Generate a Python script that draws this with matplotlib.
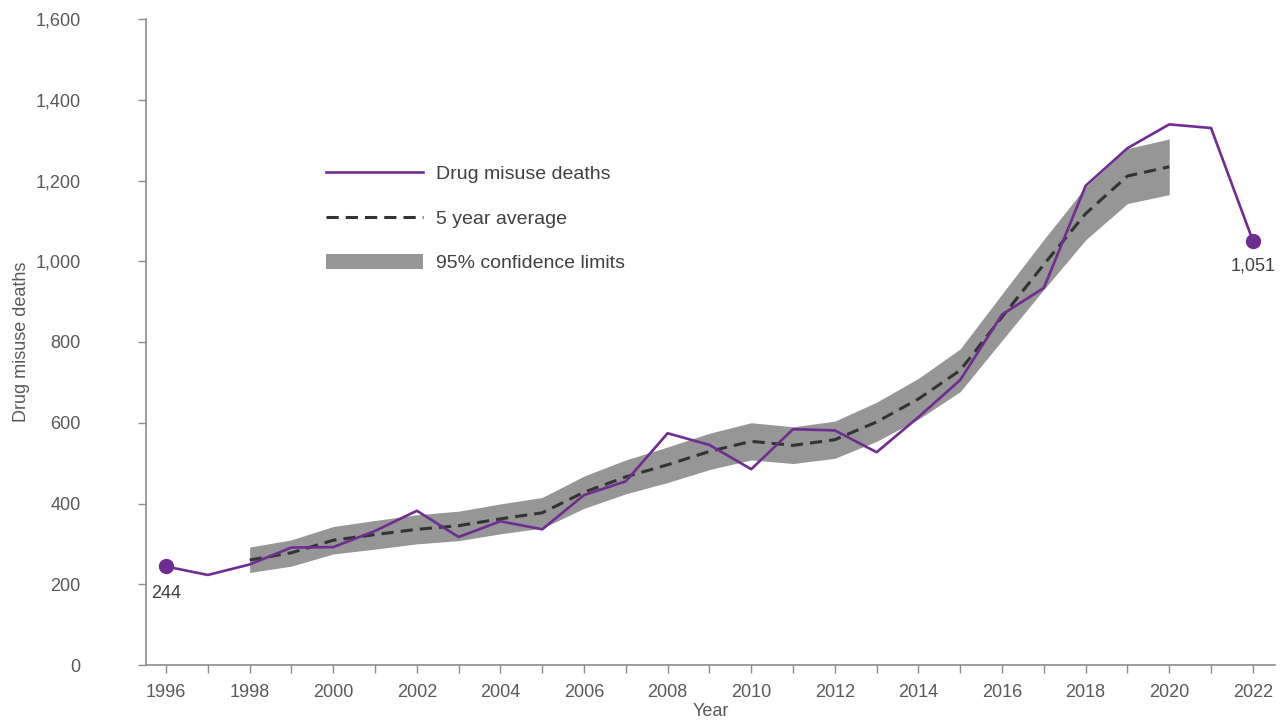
import matplotlib.pyplot as plt
from matplotlib.ticker import MultipleLocator, FuncFormatter

plt.rcParams['font.family'] = ['Liberation Sans', 'DejaVu Sans']

years = list(range(1996, 2023))
deaths = [244, 223, 249, 291, 292, 332, 382, 317, 356, 336, 421, 455, 574, 545,
          485, 584, 581, 527, 614, 706, 868, 934, 1187, 1280, 1339, 1330, 1051]

avg_years = list(range(1998, 2021))
avg5 = [260, 278, 309, 323, 336, 345, 362, 377, 428, 466, 496, 529, 554, 544,
        558, 602, 659, 730, 862, 992, 1118, 1211, 1234]
ci_low = [229, 245, 275, 287, 300, 308, 325, 339, 388, 424, 452, 484, 508, 499,
          512, 554, 609, 677, 804, 930, 1053, 1143, 1165]
ci_high = [292, 310, 343, 358, 372, 381, 399, 415, 468, 508, 540, 574, 600, 590,
           604, 651, 710, 783, 919, 1054, 1184, 1279, 1303]

purple = '#6f2c91'
text_col = '#595959'
axis_col = '#8c8c8c'

fig = plt.figure(figsize=(12.87, 7.22), dpi=100)
ax = fig.add_axes([146 / 1287, 1 - 665 / 722, (1275 - 146) / 1287, (665 - 19) / 722])

ax.fill_between(avg_years, ci_low, ci_high, color='#969696', lw=0,
                label='95% confidence limits')
ax.plot(avg_years, avg5, color='#333333', lw=2.2, dashes=(4, 2.3),
        label='5 year average')
ax.plot(years, deaths, color=purple, lw=1.9, label='Drug misuse deaths')
ax.plot([years[0], years[-1]], [deaths[0], deaths[-1]], 'o', color=purple,
        ms=10, zorder=5)

ax.annotate(f'{deaths[0]:,}', (years[0], deaths[0]), xytext=(0, -13),
            textcoords='offset points', ha='center', va='top', fontsize=13,
            color='#404040')
ax.annotate(f'{deaths[-1]:,}', (years[-1], deaths[-1]), xytext=(0, -12),
            textcoords='offset points', ha='center', va='top', fontsize=13,
            color='#404040')

ax.set_xlim(1995.52, 2022.53)
ax.set_ylim(0, 1600)
ax.xaxis.set_major_locator(MultipleLocator(2))
ax.xaxis.set_minor_locator(MultipleLocator(1))
ax.yaxis.set_major_locator(MultipleLocator(200))
ax.yaxis.set_major_formatter(FuncFormatter(lambda v, p: f'{int(v):,}'))

for s in ['top', 'right']:
    ax.spines[s].set_visible(False)
for s in ['left', 'bottom']:
    ax.spines[s].set_color(axis_col)
    ax.spines[s].set_linewidth(1.2)

ax.tick_params(axis='x', which='both', direction='out', length=6, width=1,
               color=axis_col, labelsize=13, labelcolor=text_col, pad=8)
ax.tick_params(axis='y', direction='out', length=6, width=1, color=axis_col,
               labelsize=13, labelcolor=text_col, pad=41)

ax.set_xlabel('Year', fontsize=13, color=text_col, labelpad=1)
ax.set_ylabel('Drug misuse deaths', fontsize=13, color=text_col, labelpad=4)

handles, labels = ax.get_legend_handles_labels()
order = [2, 1, 0]
ax.legend([handles[i] for i in order], [labels[i] for i in order],
          loc='upper left', bbox_to_anchor=(326 / 1287, 1 - 165 / 722),
          bbox_transform=fig.transFigure, frameon=False, fontsize=14,
          labelspacing=1.38, handlelength=5.0, handletextpad=0.65,
          handleheight=0.75, borderpad=0, borderaxespad=0, labelcolor='#404040')

fig.savefig('out.png', dpi=100)
